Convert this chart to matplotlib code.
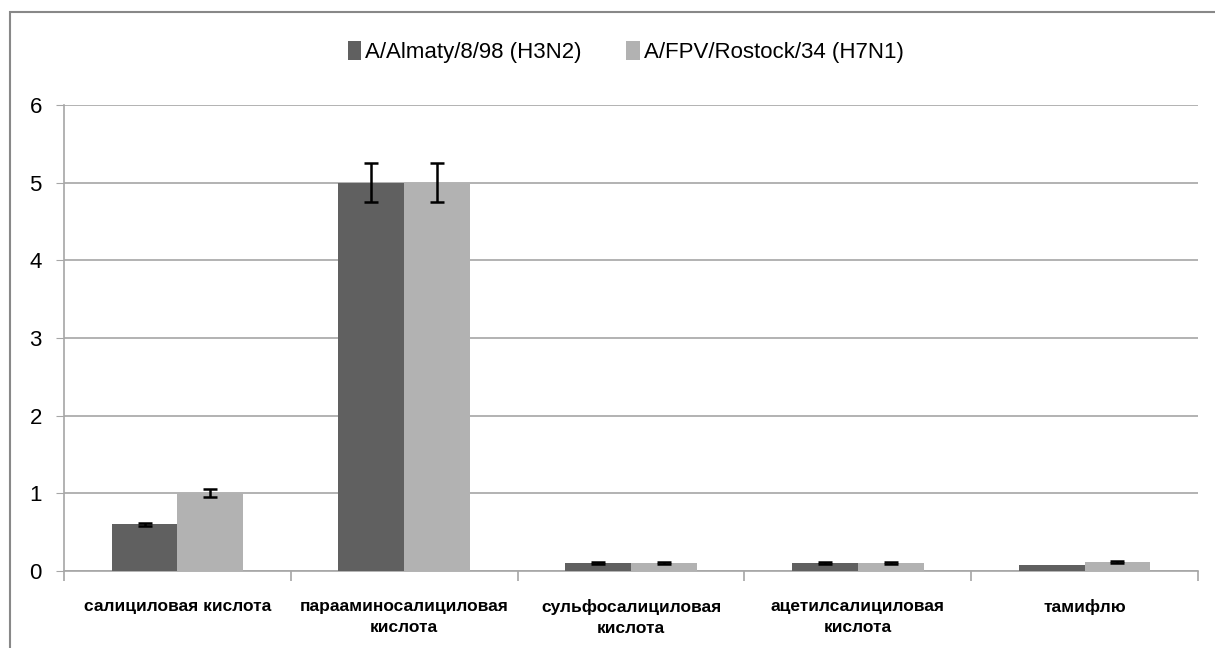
import matplotlib.pyplot as plt
import matplotlib.patches as mpatches
import numpy as np

plt.rcParams['font.family'] = ['Liberation Sans', 'DejaVu Sans']

# Data
categories = ['салициловая кислота', 'парааминосалициловая\nкислота',
              'сульфосалициловая\nкислота', 'ацетилсалициловая\nкислота', 'тамифлю']
series_names = ['A/Almaty/8/98 (H3N2)', 'A/FPV/Rostock/34 (H7N1)']
almaty = [0.6, 5.0, 0.1, 0.1, 0.08]
almaty_err = [0.02, 0.25, 0.015, 0.015, np.nan]
rostock = [1.0, 5.0, 0.1, 0.1, 0.12]
rostock_err = [0.05, 0.25, 0.015, 0.015, 0.015]

colors = ['#606060', '#b2b2b2']

fig = plt.figure(figsize=(12.15, 6.48), dpi=100)
# outer chart border
fig.patches.append(mpatches.Rectangle((10 / 1215, -0.01), 1.1, 1 - 12 / 648 + 0.01,
                                      transform=fig.transFigure, fill=False,
                                      edgecolor='#888888', linewidth=1.5))

ax = fig.add_axes([64 / 1215, 1 - 571 / 648, (1198 - 64) / 1215, (571 - 105) / 648])

x = np.arange(len(categories))
w = 0.29
ekw = dict(ecolor='black', elinewidth=1.8, capthick=1.8)
ax.bar(x - w / 2, almaty, w, color=colors[0], label=series_names[0], zorder=3,
       yerr=almaty_err, capsize=5, error_kw=ekw)
ax.bar(x + w / 2, rostock, w, color=colors[1], label=series_names[1], zorder=3,
       yerr=rostock_err, capsize=5, error_kw=ekw)

ax.set_xlim(-0.5, len(categories) - 0.5)
ax.set_ylim(0, 6)
ax.set_yticks(range(7))
ax.yaxis.grid(True, color='#a6a6a6', linewidth=1.2, zorder=0)
ax.set_axisbelow(True)

for s in ['top', 'right']:
    ax.spines[s].set_visible(False)
for s in ['left', 'bottom']:
    ax.spines[s].set_color('#a6a6a6')
    ax.spines[s].set_linewidth(1.2)

ax.tick_params(axis='y', length=6, color='#a6a6a6', labelsize=16, pad=10)
ax.set_xticks(x)
ax.set_xticklabels(categories, fontsize=12.5, fontweight='bold', linespacing=1.55)
ax.tick_params(axis='x', which='major', length=0, pad=20)
ax.set_xticks(np.arange(len(categories) + 1) - 0.5, minor=True)
ax.tick_params(axis='x', which='minor', length=7, color='#a6a6a6', width=1.2)

fig.legend(loc='center', bbox_to_anchor=(0.515, 1 - 52 / 648), ncol=2, frameon=False,
           fontsize=16, handlelength=0.6, handleheight=0.9, handletextpad=0.2,
           columnspacing=2.0)

fig.savefig('out.png', dpi=100)
